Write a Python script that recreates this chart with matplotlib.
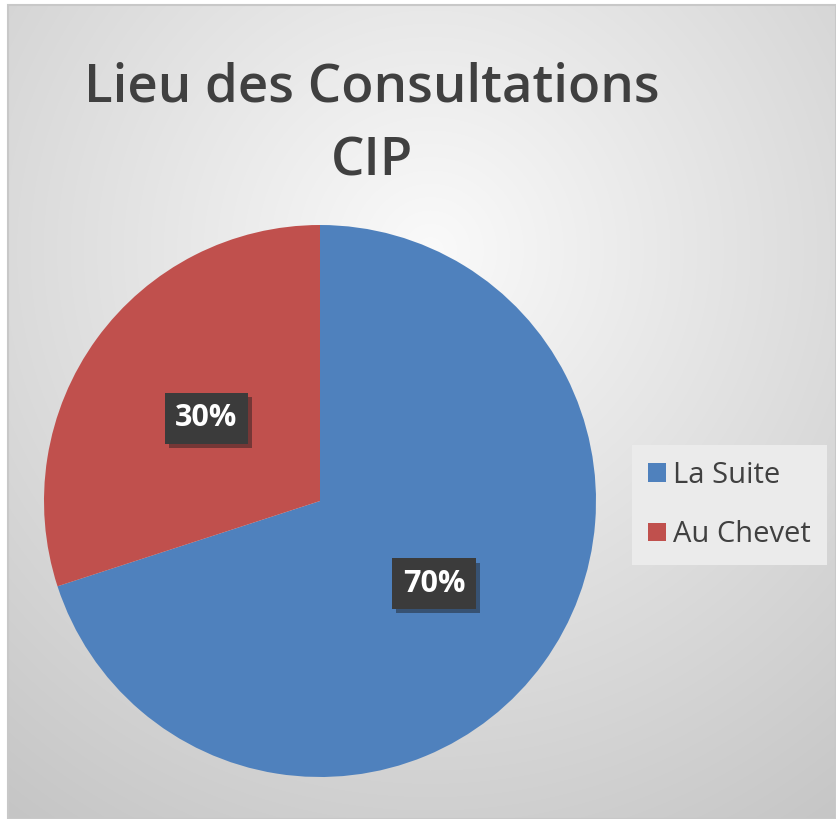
import numpy as np
import matplotlib
matplotlib.use("Agg")
import matplotlib.pyplot as plt
import matplotlib.patheffects as pe
from matplotlib.patches import Rectangle

# Data
labels = ["La Suite", "Au Chevet"]
values = [70, 30]
colors = ["#4F81BD", "#C0504D"]
title = "Lieu des Consultations\nCIP"

W, H = 836, 819
fig = plt.figure(figsize=(W / 100, H / 100), dpi=100)
fig.patch.set_facecolor("white")

# Background gradient for the chart area
bg = fig.add_axes([0, 0, 1, 1], zorder=0)
yy, xx = np.mgrid[0:H, 0:W]
dist = np.hypot(xx - 430, yy - 250)
shade = (250 - dist * 0.075) / 255.0
shade = np.clip(shade, 0, 1)
img = np.dstack([shade, shade, shade])
img[:5, :, :] = 1.0
img[:, :8, :] = 1.0
bg.imshow(img, extent=(0, W, H, 0), aspect="auto", interpolation="bilinear")
bg.add_patch(Rectangle((8, 5), W - 8, H - 5, fill=False, edgecolor="#c8c8c8", lw=1.5))
bg.set_xlim(0, W)
bg.set_ylim(H, 0)
bg.axis("off")

# Pie
cx, cy, r = 320, 501, 276
ax = fig.add_axes([(cx - r) / W, (H - cy - r) / H, 2 * r / W, 2 * r / H], zorder=1)
wedges, texts, autotexts = ax.pie(
    values, colors=colors, startangle=90, counterclock=False,
    autopct="%1.0f%%", pctdistance=0.51, radius=1,
    wedgeprops=dict(linewidth=0),
    textprops=dict(color="white", fontsize=22, fontweight="bold", family="Open Sans"),
)
for t in autotexts:
    t.set_bbox(dict(boxstyle="square,pad=0.34", facecolor="#3b3b3b", edgecolor="none"))
    t.get_bbox_patch().set_path_effects(
        [pe.SimplePatchShadow(offset=(3, -3), shadow_rgbFace="#1a1a1a", alpha=0.45), pe.Normal()]
    )
ax.set_xlim(-1, 1)
ax.set_ylim(-1, 1)
ax.axis("off")

# Title
fig.text(372 / W, 1 - 125 / H, title, ha="center", va="center",
         fontsize=38, family="Open Sans", fontweight="semibold",
         color="#404040", linespacing=1.55, zorder=2)

# Legend
leg = fig.legend(wedges, labels, loc="center left",
                 bbox_to_anchor=(632 / W, 1 - 505 / H),
                 prop=dict(family="Open Sans", size=21),
                 frameon=True, fancybox=False, framealpha=1,
                 facecolor="#ebebeb", edgecolor="none",
                 handlelength=0.6, handleheight=0.6, handletextpad=0.25,
                 labelspacing=1.05, borderpad=0.55, borderaxespad=0,
                 labelcolor="#404040")
leg.set_zorder(3)

fig.savefig("out.png", dpi=100)
